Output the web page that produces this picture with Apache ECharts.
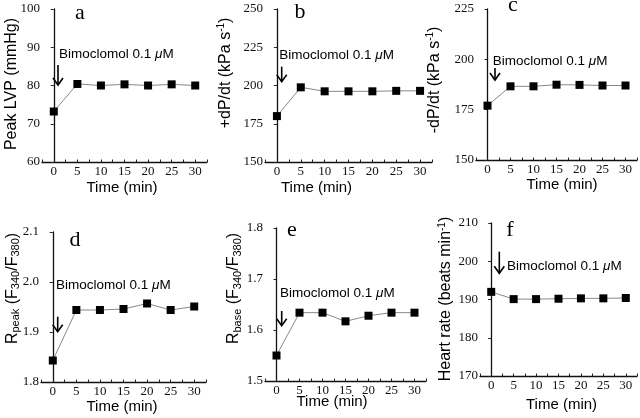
<!DOCTYPE html>
<html><head><meta charset="utf-8">
<script src="https://cdn.jsdelivr.net/npm/echarts@6/dist/echarts.min.js"></script>
<style>html,body{margin:0;padding:0;background:#fff}#c{width:640px;height:418px}</style>
</head><body><div id="c"></div>
<script>
// ---- data ----
const times = [0, 5, 10, 15, 20, 25, 30];
const peakLVP   = [73.2, 80.4, 80.0, 80.3, 80.0, 80.3, 80.0];
const dPdtPlus  = [180.0, 198.8, 196.2, 196.2, 196.2, 196.5, 196.5];
const dPdtMinus = [177.0, 186.6, 186.6, 187.4, 187.3, 187.0, 187.0];
const rPeak     = [1.843, 1.944, 1.944, 1.946, 1.957, 1.944, 1.951];
const rBase     = [1.550, 1.634, 1.634, 1.617, 1.628, 1.634, 1.634];
const heartRate = [192.0, 190.1, 190.1, 190.2, 190.3, 190.3, 190.4];

const panelLetters = ['a', 'b', 'c', 'd', 'e', 'f'];
const yMin = [60, 150, 150, 1.8, 1.5, 170];
const yMax = [100, 250, 225, 2.1, 1.8, 210];
const yStep = [10, 25, 25, 0.1, 0.1, 10];
const yDecimals = [0, 0, 0, 1, 1, 0];
const yTitles = [
  'Peak LVP (mmHg)',
  '+dP/dt (kPa s{sup|-1})',
  '-dP/dt (kPa s{sup|-1})',
  'R{sub|peak} (F{sub|340}/F{sub|380})',
  'R{sub|base} (F{sub|340}/F{sub|380})',
  'Heart rate (beats min{sup|-1})'
];
const xTitle = 'Time (min)';
const annotation = 'Bimoclomol 0.1 {i|μ}M';
const seriesValues = [peakLVP, dPdtPlus, dPdtMinus, rPeak, rBase, heartRate];

// ---- layout (pixels) ----
const grids = [
  {left: 42, top: 9, width: 165, height: 153},
  {left: 265, top: 9, width: 167, height: 153},
  {left: 476, top: 9, width: 167, height: 151},
  {left: 41, top: 232, width: 165, height: 150},
  {left: 265, top: 228, width: 161, height: 153},
  {left: 480, top: 223, width: 161, height: 153}
];
const letterPos = [[80, 13], [300, 12], [513, 5], [75, 240], [292, 230], [510, 230]];
const yTitlePos = [[11.7, 84], [225.5, 73], [434.7, 80], [12.5, 288.5], [234, 288.5], [446, 299]];
const xTitlePos = [[122, 188], [316.5, 188], [562, 185], [122, 406.7], [332, 401.7], [561.5, 405]];
const annTextPos = [[59, 54], [279.3, 55], [492.7, 61.7], [56, 285.7], [280, 293.3], [507, 266.7]];
const arrowPos = [[58, 65, 85], [281.7, 66.7, 81.7], [495, 68, 80], [57.7, 316.7, 331.7], [281.7, 311, 325.7], [499.3, 251.7, 273.3]];

const serif = 'Liberation Serif, Times New Roman, serif';
const sans = 'Liberation Sans, Arial, sans-serif';

const option = {
  backgroundColor: '#fff',
  animation: false,
  grid: grids.map(g => Object.assign({containLabel: false}, g)),
  xAxis: grids.map((g, i) => ({
    gridIndex: i, type: 'value', min: -2.5, max: 32.5, interval: 2.5,
    axisLine: {show: true, lineStyle: {color: '#111', width: 1.3}},
    axisTick: {show: true, inside: true, length: 2.5, lineStyle: {color: '#222', width: 1}},
    splitLine: {show: false},
    axisLabel: {
      color: '#111', fontFamily: serif, fontSize: 13, margin: 3,
      formatter: v => (v >= 0 && Math.abs(v % 5) < 1e-9) ? String(v) : ''
    }
  })),
  yAxis: grids.map((g, i) => ({
    gridIndex: i, type: 'value', min: yMin[i], max: yMax[i], interval: yStep[i],
    axisLine: {show: true, lineStyle: {color: '#111', width: 1.3}},
    axisTick: {show: true, inside: false, length: 3, lineStyle: {color: '#222', width: 1}},
    splitLine: {show: false},
    axisLabel: {
      color: '#111', fontFamily: serif, fontSize: 13, margin: 2,
      formatter: v => v.toFixed(yDecimals[i])
    }
  })),
  series: seriesValues.map((vals, i) => ({
    type: 'line', xAxisIndex: i, yAxisIndex: i,
    data: times.map((t, k) => [t, vals[k]]),
    symbol: 'rect', symbolSize: 8,
    itemStyle: {color: '#000'},
    lineStyle: {color: '#888', width: 1},
    z: 3
  })),
  graphic: []
};

const g = [];
for (let i = 0; i < 6; i++) {
  g.push({type: 'text', x: letterPos[i][0], y: letterPos[i][1],
    style: {text: panelLetters[i], font: '22px ' + serif, fill: '#000', align: 'center', verticalAlign: 'middle'}});
  g.push({type: 'text', x: yTitlePos[i][0], y: yTitlePos[i][1], rotation: Math.PI / 2,
    style: {text: yTitles[i], fontFamily: sans, fontSize: 16, fill: '#000', align: 'center', verticalAlign: 'middle', lineHeight: 18,
      rich: {
        sub: {fontFamily: sans, fontSize: 11, verticalAlign: 'bottom', lineHeight: 8, fill: '#000'},
        sup: {fontFamily: sans, fontSize: 10, verticalAlign: 'top', lineHeight: 8, fill: '#000'}
      }}});
  g.push({type: 'text', x: xTitlePos[i][0], y: xTitlePos[i][1],
    style: {text: xTitle, fontFamily: sans, fontSize: 15, fill: '#000', align: 'center', verticalAlign: 'middle'}});
  g.push({type: 'text', x: annTextPos[i][0], y: annTextPos[i][1],
    style: {text: annotation, fontFamily: sans, fontSize: 13.5, fill: '#000', align: 'left', verticalAlign: 'middle',
      rich: {i: {fontFamily: sans, fontSize: 13.5, fontStyle: 'italic', fill: '#000'}}}});
  const [ax, ay0, ay1] = arrowPos[i];
  g.push({type: 'line', shape: {x1: ax, y1: ay0, x2: ax, y2: ay1}, style: {stroke: '#000', lineWidth: 1.6}});
  g.push({type: 'polyline', shape: {points: [[ax - 5, ay1 - 7], [ax, ay1], [ax + 5, ay1 - 7]]}, style: {stroke: '#000', lineWidth: 1.6, fill: null}});
}
option.graphic = g;

const chart = echarts.init(document.getElementById('c'), null, {renderer: 'canvas'});
chart.setOption(option);
</script></body></html>
